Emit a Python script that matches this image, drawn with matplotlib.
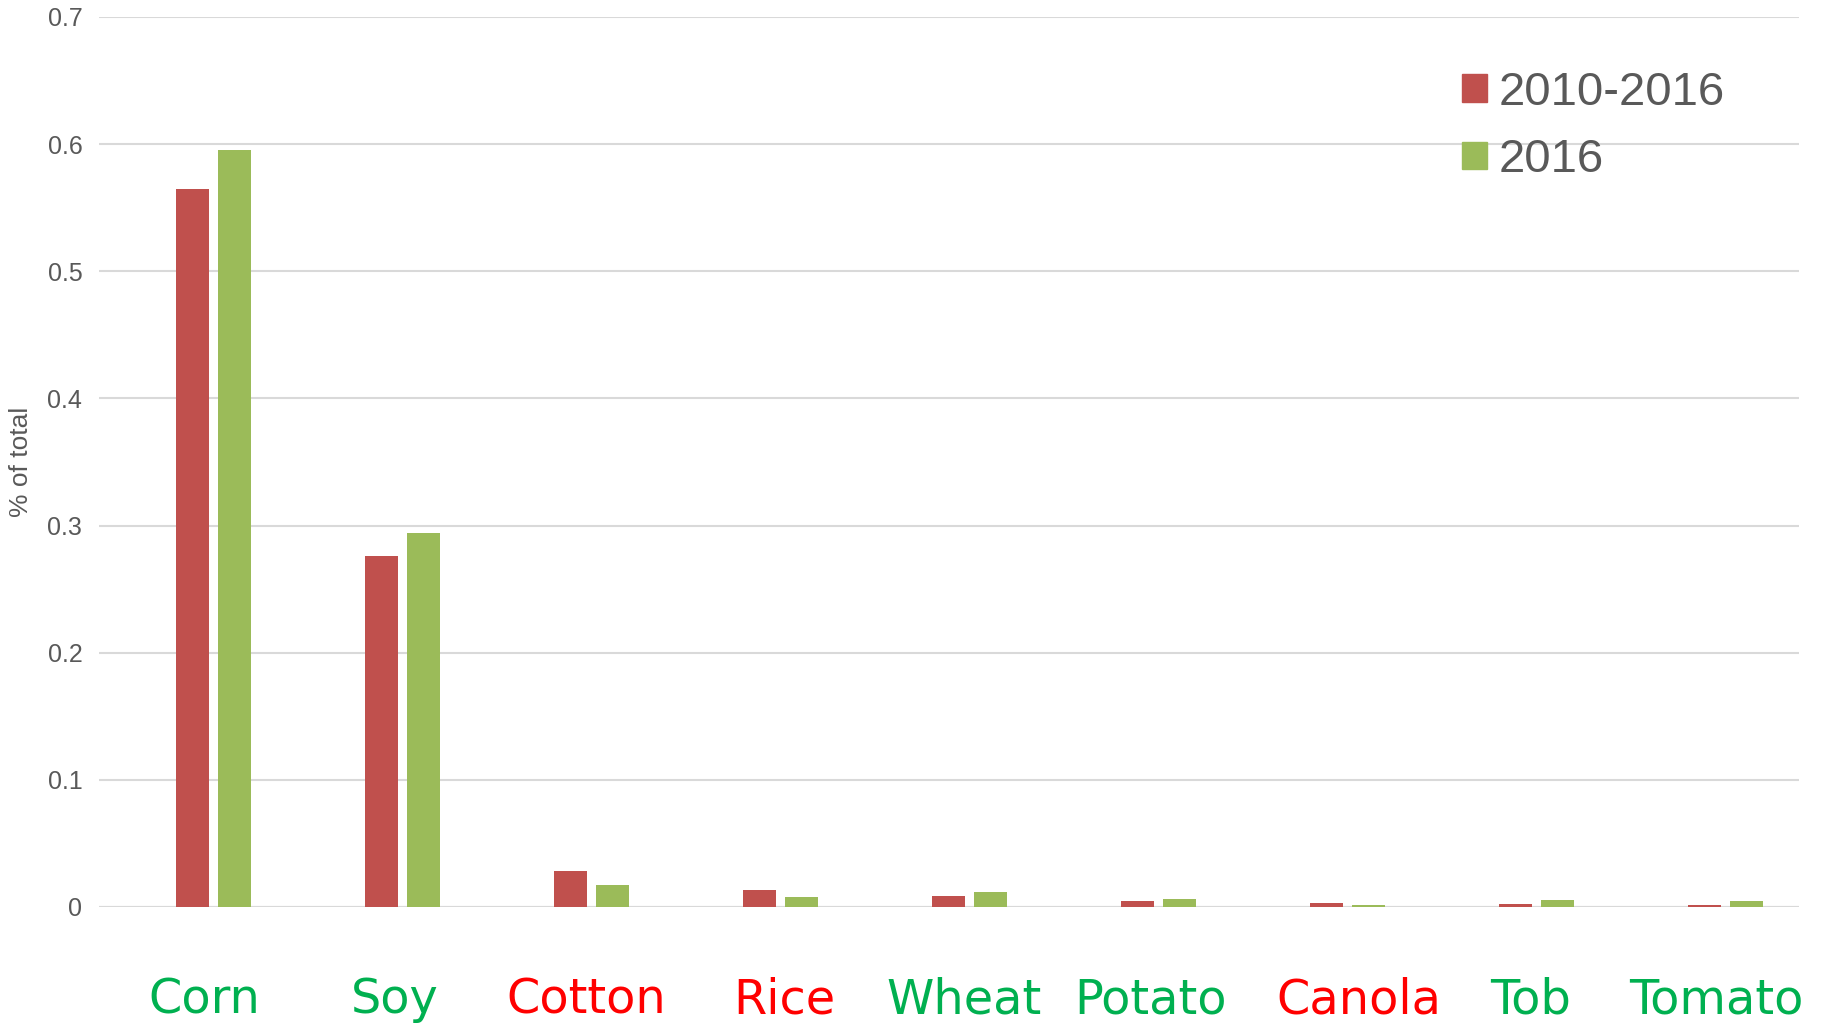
import matplotlib.pyplot as plt
import numpy as np
from matplotlib.patches import Patch

# crop shares
crops = ["Corn", "Soy", "Cotton", "Rice", "Wheat", "Potato", "Canola", "Tob", "Tomato"]
share_2010_2016 = [0.565, 0.276, 0.028, 0.0135, 0.009, 0.0047, 0.003, 0.0027, 0.0019]
share_2016 = [0.595, 0.294, 0.0176, 0.008, 0.0117, 0.0065, 0.0013, 0.0054, 0.0046]
label_colors = ["#00B050", "#00B050", "#FF0000", "#FF0000", "#00B050",
                "#00B050", "#FF0000", "#00B050", "#00B050"]
yticks = [0, 0.1, 0.2, 0.3, 0.4, 0.5, 0.6, 0.7]
ytick_labels = ["0", "0.1", "0.2", "0.3", "0.4", "0.5", "0.6", "0.7"]

red = "#C0504D"
green = "#9BBB59"
grey = "#595959"
arial = "Liberation Sans"

fig = plt.figure(figsize=(18.26, 10.23), dpi=100)
ax = fig.add_axes([0.0542, 0.1134, 0.931, 0.870])

x = np.arange(len(crops))
w = 0.172
gap = 0.05
ax.bar(x - (w + gap) / 2, share_2010_2016, width=w, color=red, zorder=3)
ax.bar(x + (w + gap) / 2, share_2016, width=w, color=green, zorder=3)

ax.set_xlim(-0.607, 8.389)
ax.set_ylim(0, 0.7)
ax.set_yticks(yticks)
ax.set_yticklabels(ytick_labels, fontfamily=arial)
ax.yaxis.grid(True, color="#D9D9D9", linewidth=1.5, zorder=0)
ax.set_axisbelow(True)
ax.tick_params(axis="y", length=0, labelsize=18, labelcolor=grey, pad=12)
ax.tick_params(axis="x", length=0, labelbottom=False)
for s in ax.spines.values():
    s.set_visible(False)
ax.axhline(0, color="#D9D9D9", linewidth=1.5, zorder=1)

ax.set_ylabel("% of total", fontsize=19, color=grey, fontfamily=arial)
ax.yaxis.set_label_coords(-0.039, 0.5)

# coloured category names under the axis (small nudges to follow the reference)
nudge = [-0.02, -0.01, 0.0, 0.05, 0.0, -0.01, 0.09, 0.0, -0.02]
for xi, name, c, dx in zip(x, crops, label_colors, nudge):
    ax.text(xi - 0.03 + dx, -0.0834, name, ha="center", va="baseline",
            fontsize=34.5, color=c, clip_on=False)

handles = [Patch(color=red, label="2010-2016"), Patch(color=green, label="2016")]
leg = ax.legend(handles=handles, loc="upper left", bbox_to_anchor=(0.788, 0.966),
                frameon=False, prop={"family": arial, "size": 34},
                handlelength=0.52, handleheight=0.52,
                handletextpad=0.25, labelspacing=0.5, borderpad=0)
for t in leg.get_texts():
    t.set_color(grey)

fig.savefig("out.png", dpi=100)
